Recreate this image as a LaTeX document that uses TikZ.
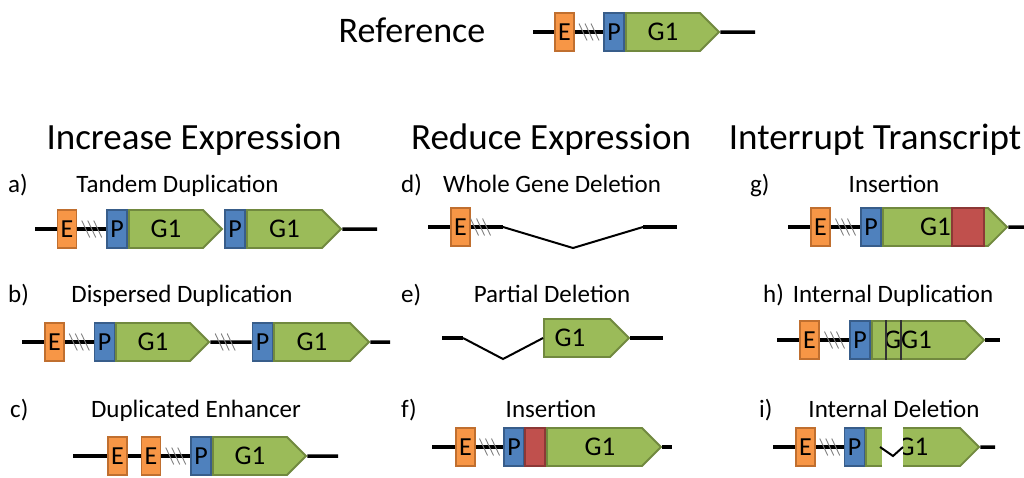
\documentclass[tikz,border=0pt]{standalone}
\usepackage{fontspec}
\setmainfont{Carlito}
\usetikzlibrary{shapes.symbols}

\definecolor{enhfill}{HTML}{F79646}
\definecolor{enhline}{HTML}{C06F2F}
\definecolor{promfill}{HTML}{4F81BD}
\definecolor{promline}{HTML}{385D8A}
\definecolor{genefill}{HTML}{9BBB59}
\definecolor{geneline}{HTML}{71893F}
\definecolor{insfill}{HTML}{C0504D}
\definecolor{insline}{HTML}{8C3836}

\tikzset{
  box/.style={rectangle, draw, line width=1.8pt, minimum width=19pt, minimum height=38pt, inner sep=0pt, font=\fontsize{26}{26}\selectfont},
  enh/.style={box, fill=enhfill, draw=enhline},
  prom/.style={box, fill=promfill, draw=promline, minimum width=20pt},
  ins/.style={box, fill=insfill, draw=insline, minimum width=20pt},
  gene/.style={signal, signal to=east, signal pointer angle=90, fill=genefill, draw=geneline, line width=1.8pt, minimum height=38pt, inner sep=0pt, font=\fontsize{27}{27}\selectfont},
  gtxt/.style={font=\fontsize{27}{27}\selectfont, inner sep=0pt},
  dna/.style={line width=3.5pt},
  vee/.style={line width=2pt},
  cut/.style={inner sep=0pt, minimum width=22pt, minimum height=22pt,
    path picture={\foreach \d in {-6,0,6}
      \draw[gray, line width=0.9pt] ([shift={(\d pt-4pt,8.5pt)}]path picture bounding box.center) -- ([shift={(\d pt+4pt,-8.5pt)}]path picture bounding box.center);}},
  lbl/.style={font=\fontsize{25}{25}\selectfont, anchor=base, inner sep=0pt},
  head/.style={font=\fontsize{37}{37}\selectfont, anchor=base, inner sep=0pt},
}

\begin{document}
\begin{tikzpicture}[x=1pt, y=-1pt]
\useasboundingbox (0,0) rectangle (1024,477);

% reference
\node[head, font=\fontsize{36}{36}\selectfont] (tRef) at (412,42) {Reference};
\coordinate (rL) at (533,32);
\node[enh] (rE) at (564.5,32) {E};
\node[prom] (rP) at (614,32) {P};
\node[gene, minimum width=93pt] (rG) at (663,32) {G1};
\coordinate (rR) at (755,32);
\draw[dna] (rL) -- (rE);
\draw[dna] (rE) -- node[cut] (rH) {} (rP);
\draw[dna] (rG) -- (rR);

% column headings
\node[head] (tInc) at (194,149) {Increase Expression};
\node[head] (tRed) at (551,149) {Reduce Expression};
\node[head] (tInt) at (875,149) {Interrupt Transcript};

% a) tandem duplication
\node[lbl, anchor=base west] (aN) at (8,192) {a)};
\node[lbl] (aT) at (177.5,192) {Tandem Duplication};
\coordinate (aL) at (35,229);
\node[enh] (aE) at (67,229) {E};
\node[prom] (aP1) at (117,229) {P};
\node[gene, minimum width=93pt] (aG1) at (166,229) {G1};
\node[prom] (aP2) at (235,229) {P};
\node[gene, minimum width=94pt] (aG2) at (284.5,229) {G1};
\coordinate (aR) at (377,229);
\draw[dna] (aL) -- (aE);
\draw[dna] (aE) -- node[cut] (aH) {} (aP1);
\draw[dna] (aG2) -- (aR);

% b) dispersed duplication
\node[lbl, anchor=base west] (bN) at (8,302) {b)};
\node[lbl] (bT) at (182,302) {Dispersed Duplication};
\coordinate (bL) at (22,342);
\node[enh] (bE) at (54.5,342) {E};
\node[prom] (bP1) at (104.5,342) {P};
\node[gene, minimum width=93pt] (bG1) at (153,342) {G1};
\node[prom] (bP2) at (262.5,342) {P};
\node[gene, minimum width=95pt] (bG2) at (312,342) {G1};
\coordinate (bR) at (390,342);
\draw[dna] (bL) -- (bE);
\draw[dna] (bE) -- node[cut] (bH1) {} (bP1);
\draw[dna] (bG1) -- node[cut, pos=.36] (bH2) {} (bP2);
\draw[dna] (bG2) -- (bR);

% c) duplicated enhancer
\node[lbl, anchor=base west] (cN) at (10,417) {c)};
\node[lbl] (cT) at (196,417) {Duplicated Enhancer};
\coordinate (cL) at (73,456);
\node[enh] (cE1) at (117.5,456) {E};
\node[enh] (cE2) at (151,456) {E};
\node[prom] (cP) at (201,456) {P};
\node[gene, minimum width=93pt] (cG) at (250,456) {G1};
\coordinate (cR) at (338,456);
\draw[dna] (cL) -- (cE1);
\draw[dna] (cE1) -- (cE2);
\draw[dna] (cE2) -- node[cut] (cH) {} (cP);
\draw[dna] (cG) -- (cR);

% d) whole gene deletion
\node[lbl, anchor=base west] (dN) at (401,192) {d)};
\node[lbl] (dT) at (552,192) {Whole Gene Deletion};
\coordinate (dL) at (428,227);
\node[enh] (dE) at (460.5,227) {E};
\coordinate (dA) at (503,227);
\coordinate (dB) at (573,248);
\coordinate (dC) at (643,227);
\coordinate (dR) at (677,227);
\draw[dna] (dL) -- (dE);
\draw[dna] (dE) -- node[cut, pos=.3] (dH) {} (dA);
\draw[vee] (dA) -- (dB) -- (dC);
\draw[dna] (dC) -- (dR);

% e) partial deletion
\node[lbl, anchor=base west] (eN) at (401,302) {e)};
\node[lbl] (eT) at (552,302) {Partial Deletion};
\coordinate (eL) at (442,338);
\coordinate (eA) at (463,338);
\coordinate (eB) at (503,359);
\node[gene, minimum width=85pt] (eG) at (577,338) {};
\node[gtxt] (eT1) at (570,338) {G1};
\coordinate (eR) at (663,338);
\draw[dna] (eL) -- (eA);
\draw[vee] (eA) -- (eB) -- (eG.west);
\draw[dna] (eG) -- (eR);

% f) insertion
\node[lbl, anchor=base west] (fN) at (401,417) {f)};
\node[lbl] (fT) at (551,417) {Insertion};
\coordinate (fL) at (432,447);
\node[enh] (fE) at (465.5,447) {E};
\node[prom] (fP) at (514,447) {P};
\node[ins] (fI) at (535,447) {};
\node[gene, minimum width=114pt] (fG) at (594.5,447) {};
\node[gtxt] (fT1) at (600,447) {G1};
\coordinate (fR) at (672,447);
\draw[dna] (fL) -- (fE);
\draw[dna] (fE) -- node[cut] (fH) {} (fP);
\draw[dna] (fG) -- (fR);

% g) insertion
\node[lbl, anchor=base west] (gN) at (750,192) {g)};
\node[lbl] (gT) at (894,192) {Insertion};
\coordinate (gL) at (788,227);
\node[enh] (gE) at (820.5,227) {E};
\node[prom] (gP) at (871,227) {P};
\node[gene, minimum width=124pt] (gG) at (935.5,227) {G1};
\node[ins, minimum width=32pt] (gI) at (968,227) {};
\coordinate (gR) at (1024,227);
\draw[dna] (gL) -- (gE);
\draw[dna] (gE) -- node[cut] (gH) {} (gP);
\draw[dna] (gG) -- (gR);

% h) internal duplication
\node[lbl, anchor=base west] (hN) at (763,302) {h)};
\node[lbl] (hT) at (893,302) {Internal Duplication};
\coordinate (hL) at (777,340);
\node[enh] (hE) at (809.5,340) {E};
\node[prom] (hP) at (860,340) {P};
\node[gene, minimum width=112pt] (hG) at (918.5,340) {};
\node[gtxt] (hT1) at (908,340) {GG1};
\draw[line width=1.2pt, black!80] (886,320) -- (886,360);
\draw[line width=1.2pt, black!80] (901,320) -- (901,360);
\coordinate (hR) at (1000,340);
\draw[dna] (hL) -- (hE);
\draw[dna] (hE) -- node[cut] (hH) {} (hP);
\draw[dna] (hG) -- (hR);

% i) internal deletion
\node[lbl, anchor=base west] (iN) at (759,417) {i)};
\node[lbl] (iT) at (894,417) {Internal Deletion};
\coordinate (iL) at (773,447);
\node[enh] (iE) at (805.5,447) {E};
\node[prom] (iP) at (854.5,447) {P};
\node[gene, minimum width=113pt] (iG) at (913,447) {G1};
\fill[white] (881.5,424) rectangle (902.5,470);
\coordinate (iA) at (880,447);
\coordinate (iB) at (893,456);
\coordinate (iC) at (903,447);
\coordinate (iR) at (995,447);
\draw[dna] (iL) -- (iE);
\draw[dna] (iE) -- node[cut] (iH) {} (iP);
\draw[vee] (iA) -- (iB) -- (iC);
\draw[dna] (iG) -- (iR);
\end{tikzpicture}
\end{document}
